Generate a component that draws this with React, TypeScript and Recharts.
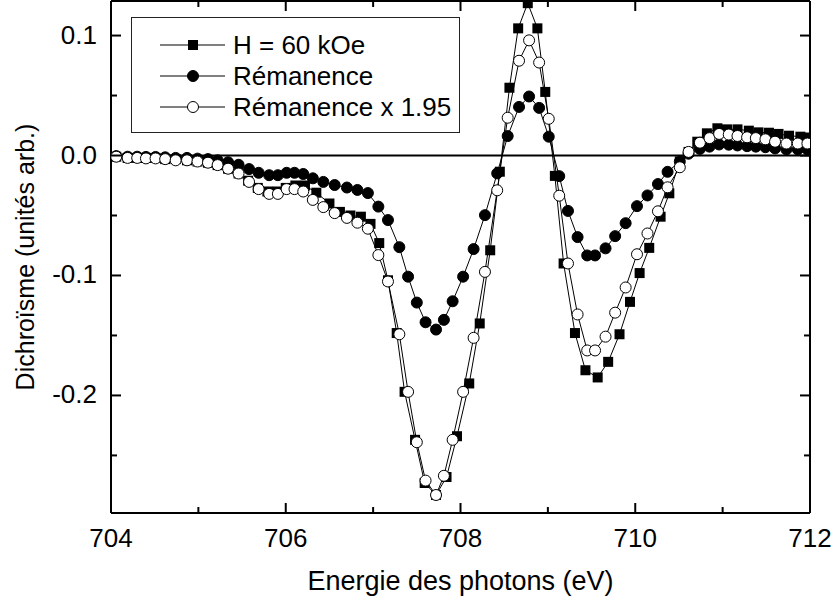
import { Label, Legend, Line, LineChart, ReferenceLine, XAxis, YAxis } from 'recharts'

// H = 60 kOe (squares)
const fieldEnergy = [
  704.06, 704.19, 704.3, 704.4, 704.51, 704.62, 704.74, 704.87, 704.99, 705.11,
  705.22, 705.34, 705.46, 705.57, 705.68, 705.79, 705.9, 706.0, 706.11, 706.22,
  706.35, 706.5, 706.62, 706.74, 706.86, 706.97, 707.07, 707.17, 707.27, 707.36,
  707.48, 707.59, 707.72, 707.84, 707.96, 708.1, 708.22, 708.34, 708.45, 708.56,
  708.66, 708.77, 708.88, 708.97, 709.08, 709.18, 709.31, 709.43, 709.57, 709.69,
  709.82, 709.94, 710.05, 710.16, 710.29, 710.39, 710.51, 710.61, 710.71, 710.82,
  710.94, 711.05, 711.17, 711.3, 711.41, 711.53, 711.64, 711.76, 711.89, 711.99,
]
const fieldSignal = [
  -0.001, -0.002, -0.002, -0.002, -0.002, -0.003, -0.003, -0.004, -0.005, -0.006,
  -0.008, -0.011, -0.015, -0.021, -0.027, -0.03, -0.03, -0.027, -0.025, -0.025,
  -0.031, -0.04, -0.047, -0.05, -0.051, -0.057, -0.073, -0.104, -0.148, -0.197,
  -0.237, -0.273, -0.283, -0.268, -0.234, -0.19, -0.14, -0.079, -0.0135, 0.0565,
  0.106, 0.127, 0.106, 0.053, -0.017, -0.09, -0.148, -0.179, -0.185, -0.172,
  -0.149, -0.122, -0.098, -0.077, -0.051, -0.0315, -0.005, 0.003, 0.0115, 0.0185,
  0.0227, 0.0218, 0.0218, 0.0207, 0.0193, 0.019, 0.018, 0.0165, 0.0157, 0.015,
]

// Rémanence (filled circles) and Rémanence x 1.95 (open circles)
const remEnergy = [
  704.06, 704.19, 704.3, 704.4, 704.51, 704.62, 704.74, 704.87, 704.99, 705.11,
  705.22, 705.34, 705.46, 705.58, 705.69, 705.81, 705.91, 706.01, 706.1, 706.2,
  706.31, 706.43, 706.56, 706.7, 706.82, 706.94, 707.06, 707.17, 707.3, 707.4,
  707.5, 707.6, 707.72, 707.81, 707.91, 708.03, 708.15, 708.28, 708.42, 708.54,
  708.67, 708.785, 708.9, 709.01, 709.13, 709.23, 709.34, 709.45, 709.54, 709.66,
  709.77, 709.89, 710.02, 710.14, 710.26, 710.37, 710.51, 710.61, 710.74, 710.85,
  710.96, 711.07, 711.17, 711.28, 711.38, 711.49, 711.6, 711.73, 711.86, 711.97,
]
const remSignal = [
  -0.0005, -0.001, -0.001, -0.0012, -0.0012, -0.0015, -0.002, -0.002, -0.0026, -0.003,
  -0.004, -0.0056, -0.0077, -0.0113, -0.0144, -0.0164, -0.0164, -0.0144, -0.0144, -0.0154,
  -0.019, -0.022, -0.0246, -0.0267, -0.0287, -0.0313, -0.0426, -0.0538, -0.0764, -0.101,
  -0.1226, -0.139, -0.1451, -0.137, -0.1215, -0.101, -0.078, -0.0497, -0.0149, 0.0162,
  0.0405, 0.0492, 0.0397, 0.0157, -0.0172, -0.0462, -0.068, -0.0833, -0.0833, -0.0774,
  -0.0672, -0.0564, -0.0422, -0.0333, -0.0238, -0.0136, -0.005, 0.0015, 0.0055, 0.0074,
  0.0092, 0.009, 0.0084, 0.0078, 0.0074, 0.0069, 0.0059, 0.0051, 0.0051, 0.0051,
]
const remScaledSignal = [
  -0.001, -0.002, -0.002, -0.0024, -0.0024, -0.003, -0.004, -0.004, -0.005, -0.006,
  -0.008, -0.011, -0.015, -0.022, -0.028, -0.032, -0.032, -0.028, -0.028, -0.03,
  -0.037, -0.043, -0.048, -0.052, -0.056, -0.061, -0.083, -0.105, -0.149, -0.197,
  -0.239, -0.271, -0.283, -0.267, -0.237, -0.197, -0.152, -0.097, -0.029, 0.0315,
  0.079, 0.096, 0.0775, 0.0306, -0.0335, -0.09, -0.1325, -0.1625, -0.1625, -0.151,
  -0.131, -0.11, -0.0823, -0.065, -0.0465, -0.0265, -0.0098, 0.003, 0.0107, 0.0145,
  0.018, 0.0175, 0.0163, 0.0152, 0.0145, 0.0135, 0.0115, 0.01, 0.01, 0.01,
]

const xTicks = [704, 705, 706, 707, 708, 709, 710, 711, 712]
const yTicks = [-0.25, -0.2, -0.15, -0.1, -0.05, 0, 0.05, 0.1]
const xDomain: [number, number] = [704, 712]
const yDomain: [number, number] = [-0.298, 0.1288]

const fieldData = fieldEnergy.map((x, i) => ({ x, y: fieldSignal[i] }))
const remData = remEnergy.map((x, i) => ({ x, y: remSignal[i] }))
const remScaledData = remEnergy.map((x, i) => ({ x, y: remScaledSignal[i] }))

const FONT = '"Liberation Sans", Arial, Helvetica, sans-serif'
const MAJOR = 10
const MINOR = 6

const isMajorX = (v: number) => v % 2 === 0
const isMajorY = (v: number) => Math.abs(v * 10 - Math.round(v * 10)) < 1e-6

function BottomTick({ x, y, payload }: any) {
  const v = payload.value
  const major = isMajorX(v)
  return (
    <g>
      <line x1={x} x2={x} y1={y} y2={y - (major ? MAJOR : MINOR)} stroke="#000" strokeWidth={2} />
      {major && (
        <text x={x} y={y + 34} textAnchor="middle" fontSize={26} fill="#000">
          {v}
        </text>
      )}
    </g>
  )
}

function TopTick({ x, y, payload }: any) {
  const len = isMajorX(payload.value) ? MAJOR : MINOR
  return <line x1={x} x2={x} y1={y} y2={y + len} stroke="#000" strokeWidth={2} />
}

function LeftTick({ x, y, payload }: any) {
  const v = payload.value
  const major = isMajorY(v)
  return (
    <g>
      <line x1={x} x2={x + (major ? MAJOR : MINOR)} y1={y} y2={y} stroke="#000" strokeWidth={2} />
      {major && (
        <text x={x - 14} y={y + 8} textAnchor="end" fontSize={26} fill="#000">
          {v.toFixed(1)}
        </text>
      )}
    </g>
  )
}

function RightTick({ x, y, payload }: any) {
  const len = isMajorY(payload.value) ? MAJOR : MINOR
  return <line x1={x} x2={x - len} y1={y} y2={y} stroke="#000" strokeWidth={2} />
}

function SquareDot(props: any) {
  const { cx, cy, index } = props
  if (cx == null || cy == null) return <g key={`sq-${index}`} />
  return <rect key={`sq-${index}`} x={cx - 5} y={cy - 5} width={10} height={10} fill="#000" />
}

const filledDot = { r: 5.5, fill: '#000', stroke: '#000', strokeWidth: 1 }
const openDot = { r: 5.5, fill: '#fff', stroke: '#000', strokeWidth: 1 }

const legendRows = [
  { name: 'H = 60 kOe', marker: 'square' },
  { name: 'Rémanence', marker: 'filled' },
  { name: 'Rémanence x 1.95', marker: 'open' },
]

function LegendBox() {
  return (
    <svg width={330} height={117} style={{ display: 'block' }}>
      <rect x={0.5} y={0.5} width={328} height={115} fill="#fff" stroke="#222" strokeWidth={1} />
      {legendRows.map((row, i) => {
        const cy = 28 + i * 31
        return (
          <g key={row.name}>
            <line x1={29} x2={94} y1={cy} y2={cy} stroke="#000" strokeWidth={1} />
            {row.marker === 'square' && <rect x={57} y={cy - 5} width={10} height={10} fill="#000" />}
            {row.marker === 'filled' && <circle cx={62} cy={cy} r={5.5} fill="#000" stroke="#000" />}
            {row.marker === 'open' && <circle cx={62} cy={cy} r={5.5} fill="#fff" stroke="#000" />}
            <text x={102} y={cy + 9} fontSize={26} fill="#000" fontFamily={FONT}>
              {row.name}
            </text>
          </g>
        )
      })}
    </svg>
  )
}

export default function App() {
  return (
    <div style={{ position: 'absolute', left: 0, top: 0, fontFamily: FONT, background: '#fff' }}>
      <LineChart width={833} height={604} margin={{ top: 0, right: 0, bottom: 0, left: 0 }}>
        <XAxis
          xAxisId="bottom"
          type="number"
          dataKey="x"
          domain={xDomain}
          ticks={xTicks}
          interval={0}
          allowDataOverflow
          height={91}
          tickSize={0}
          tickMargin={0}
          tickLine={false}
          axisLine={{ stroke: '#000', strokeWidth: 2 }}
          tick={BottomTick}
        >
          <Label
            value="Energie des photons (eV)"
            position="insideBottom"
            offset={14}
            fontSize={27}
            fill="#000"
          />
        </XAxis>
        <XAxis
          xAxisId="top"
          orientation="top"
          type="number"
          dataKey="x"
          domain={xDomain}
          ticks={xTicks}
          interval={0}
          allowDataOverflow
          height={1}
          tickSize={0}
          tickMargin={0}
          tickLine={false}
          axisLine={{ stroke: '#000', strokeWidth: 2 }}
          tick={TopTick}
        />
        <YAxis
          yAxisId="left"
          type="number"
          domain={yDomain}
          ticks={yTicks}
          interval={0}
          allowDataOverflow
          width={111}
          tickSize={0}
          tickMargin={0}
          tickLine={false}
          axisLine={{ stroke: '#000', strokeWidth: 2 }}
          tick={LeftTick}
        >
          <Label
            value="Dichroïsme (unités arb.)"
            angle={-90}
            position="insideLeft"
            offset={25}
            fontSize={25}
            fill="#000"
            style={{ textAnchor: 'middle' }}
          />
        </YAxis>
        <YAxis
          yAxisId="right"
          orientation="right"
          type="number"
          domain={yDomain}
          ticks={yTicks}
          interval={0}
          allowDataOverflow
          width={23}
          tickSize={0}
          tickMargin={0}
          tickLine={false}
          axisLine={{ stroke: '#000', strokeWidth: 2 }}
          tick={RightTick}
        />
        <ReferenceLine xAxisId="bottom" yAxisId="left" y={0} stroke="#000" strokeWidth={2} />
        <Line
          xAxisId="bottom"
          yAxisId="left"
          data={fieldData}
          dataKey="y"
          type="linear"
          stroke="#000"
          strokeWidth={1}
          dot={SquareDot}
          activeDot={false}
          isAnimationActive={false}
        />
        <Line
          xAxisId="bottom"
          yAxisId="left"
          data={remData}
          dataKey="y"
          type="linear"
          stroke="#000"
          strokeWidth={1}
          dot={filledDot}
          activeDot={false}
          isAnimationActive={false}
        />
        <Line
          xAxisId="bottom"
          yAxisId="left"
          data={remScaledData}
          dataKey="y"
          type="linear"
          stroke="#000"
          strokeWidth={1}
          dot={openDot}
          activeDot={false}
          isAnimationActive={false}
        />
        <Legend
          layout="vertical"
          align="center"
          verticalAlign="middle"
          wrapperStyle={{ left: 131, top: 17, width: 330, height: 117 }}
          content={() => <LegendBox />}
        />
      </LineChart>
    </div>
  )
}
